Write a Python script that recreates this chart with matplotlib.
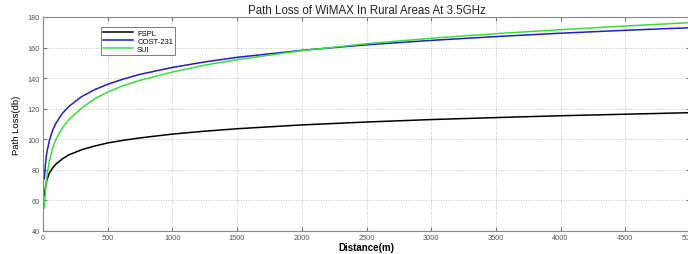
import matplotlib
matplotlib.use("Agg")
import matplotlib.pyplot as plt

plt.rcParams['font.family'] = ['Liberation Sans', 'DejaVu Sans']

# distance (m) and path loss (dB)
distance = [10, 20, 30, 50, 75, 100, 150, 200, 300, 400, 500, 625, 750, 1000, 1250,
            1500, 2000, 2500, 3000, 3500, 4000, 4500, 5000]
fspl = [63.3, 69.3, 73.5, 78.0, 81.3, 83.8, 87.2, 89.8, 93.2, 95.6, 97.6, 99.4, 100.9,
        103.4, 105.3, 106.9, 109.4, 111.3, 112.9, 114.2, 115.4, 116.4, 117.4]
cost231 = [74.0, 85.0, 91.5, 99.5, 106.0, 110.5, 117.0, 121.5, 128.0, 132.5, 136.0,
           139.5, 142.5, 147.0, 150.6, 153.6, 158.2, 161.8, 164.7, 167.2, 169.4, 171.3, 173.0]
sui = [55.0, 68.0, 76.0, 86.0, 94.5, 100.0, 107.5, 113.0, 120.5, 126.5, 131.0, 135.2,
       138.6, 144.0, 148.5, 152.1, 158.0, 162.5, 166.1, 169.1, 171.7, 174.1, 176.3]

fig = plt.figure(figsize=(6.88, 2.55), dpi=100)
ax = fig.add_axes([43 / 688, 23 / 255, 647 / 688, 214 / 255])

ax.plot(distance, fspl, color='black', lw=1.1, label='FSPL')
ax.plot(distance, cost231, color='#1f1fc4', lw=1.1, label='COST-231')
ax.plot(distance, sui, color='#3ddc3d', lw=1.1, label='SUI')

ax.set_xlim(0, 5000)
ax.set_ylim(40, 180)
ax.set_xticks(range(0, 5001, 500))
ax.set_yticks(range(40, 181, 20))
ax.grid(True, linestyle=(0, (1, 2)), color='#b0b0b0', lw=0.6)
ax.tick_params(direction='in', length=3, labelsize=5.3, labelcolor='#555555',
               color='#777777', top=True, right=True, pad=2)
for s in ax.spines.values():
    s.set_color('#888888')
    s.set_linewidth(0.8)

ax.set_title('Path Loss of WiMAX In Rural Areas At 3.5GHz', fontsize=8.3,
             color='#222222', pad=3)
ax.set_xlabel('Distance(m)', fontsize=7, fontweight='bold', labelpad=1)
ax.set_ylabel('Path Loss(db)', fontsize=6.8, labelpad=5)

leg = ax.legend(loc='upper left', bbox_to_anchor=(0.083, 0.97), fontsize=5.5,
                frameon=True, fancybox=False, edgecolor='#444444', handlelength=4,
                borderpad=0.3, labelspacing=0.1, handletextpad=0.5)
leg.get_frame().set_linewidth(0.6)

fig.savefig('out.png', dpi=100)
